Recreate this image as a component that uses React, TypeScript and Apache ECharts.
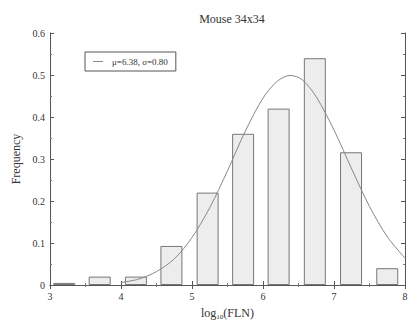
import React, { useEffect, useRef } from "react";
import * as echarts from "echarts";

const titleText = "Mouse 34x34";
const legendLabel = "μ=6.38, σ=0.80";
// histogram bin centres (log10 FLN) and density heights
const binCenters = [3.2, 3.7, 4.21, 4.71, 5.22, 5.72, 6.22, 6.73, 7.24, 7.75];
const binHeights = [0.005, 0.02, 0.02, 0.093, 0.22, 0.36, 0.42, 0.54, 0.316, 0.04];
// fitted normal curve
const curveX = [4.0, 4.25, 4.5, 4.75, 5.0, 5.25, 5.5, 5.75, 6.0, 6.2, 6.38, 6.55, 6.75, 7.0, 7.25, 7.5, 7.75, 8.0];
const curveY = [0.006, 0.014, 0.032, 0.062, 0.113, 0.184, 0.272, 0.366, 0.445, 0.485, 0.499, 0.489, 0.448, 0.369, 0.276, 0.187, 0.115, 0.064];
const xTicks = [3, 4, 5, 6, 7, 8];
const yTicks = [0, 0.1, 0.2, 0.3, 0.4, 0.5, 0.6];

const FONT = "'Liberation Serif', 'DejaVu Serif', serif";

export default function App() {
  const ref = useRef<HTMLDivElement>(null);
  useEffect(() => {
    if (!ref.current) return;
    const chart = echarts.init(ref.current, undefined, { renderer: "svg" });
    const axisCommon = {
      axisLine: { show: true, lineStyle: { color: "#555", width: 1 } },
      axisTick: { show: true, inside: true, length: 4, lineStyle: { color: "#555" } },
      minorTick: { show: true, splitNumber: 2, length: 2, lineStyle: { color: "#777" } },
      splitLine: { show: false },
    };
    chart.setOption({
      animation: false,
      backgroundColor: "#fff",
      title: {
        text: titleText,
        left: 227,
        top: 8,
        textAlign: "center",
        textStyle: { fontFamily: FONT, fontSize: 12, fontWeight: "normal", color: "#333" },
      },
      legend: {
        left: 85,
        top: 52,
        orient: "vertical",
        data: [{ name: legendLabel, icon: "path://M0,0 L10,0 L10,1 L0,1 Z" }],
        itemWidth: 18,
        itemHeight: 1,
        borderColor: "#555",
        borderWidth: 1,
        padding: [5, 8, 5, 8],
        textStyle: { fontFamily: FONT, fontSize: 9, color: "#333" },
      },
      grid: { left: 50, right: 9, top: 33, bottom: 40 },
      xAxis: [
        {
          type: "value",
          min: xTicks[0],
          max: xTicks[xTicks.length - 1],
          interval: 1,
          ...axisCommon,
          axisLabel: { fontFamily: FONT, fontSize: 10, color: "#333", margin: 6 },
          name: "{a|log}{b|10}{a|(FLN)}",
          nameLocation: "middle",
          nameGap: 20,
          nameTextStyle: {
            rich: {
              a: { fontFamily: FONT, fontSize: 12, color: "#333" },
              b: { fontFamily: FONT, fontSize: 7, color: "#333", padding: [8, 0, 0, 0] },
            },
          },
        },
        {
          type: "value",
          position: "top",
          min: xTicks[0],
          max: xTicks[xTicks.length - 1],
          interval: 1,
          ...axisCommon,
          axisLabel: { show: false },
        },
      ],
      yAxis: [
        {
          type: "value",
          min: yTicks[0],
          max: yTicks[yTicks.length - 1],
          interval: 0.1,
          ...axisCommon,
          axisLabel: {
            fontFamily: FONT,
            fontSize: 10,
            color: "#333",
            margin: 5,
            formatter: (v: number) => (v === 0 ? "0" : v.toFixed(1)),
          },
          name: "Frequency",
          nameLocation: "middle",
          nameGap: 27,
          nameTextStyle: { fontFamily: FONT, fontSize: 12, color: "#333" },
        },
        {
          type: "value",
          position: "right",
          min: yTicks[0],
          max: yTicks[yTicks.length - 1],
          interval: 0.1,
          ...axisCommon,
          axisLabel: { show: false },
        },
      ],
      series: [
        {
          type: "bar",
          name: "hist",
          data: binCenters.map((x, i) => [x, binHeights[i]]),
          barWidth: 22,
          itemStyle: { color: "#ededed", borderColor: "#777", borderWidth: 1 },
          silent: true,
        },
        {
          type: "line",
          name: legendLabel,
          data: curveX.map((x, i) => [x, curveY[i]]),
          smooth: 0.3,
          showSymbol: false,
          lineStyle: { color: "#888", width: 1 },
          itemStyle: { color: "#888" },
        },
      ],
    });
    return () => chart.dispose();
  }, []);
  return <div ref={ref} style={{ width: 414, height: 325, position: "absolute", left: 0, top: 0 }} />;
}
